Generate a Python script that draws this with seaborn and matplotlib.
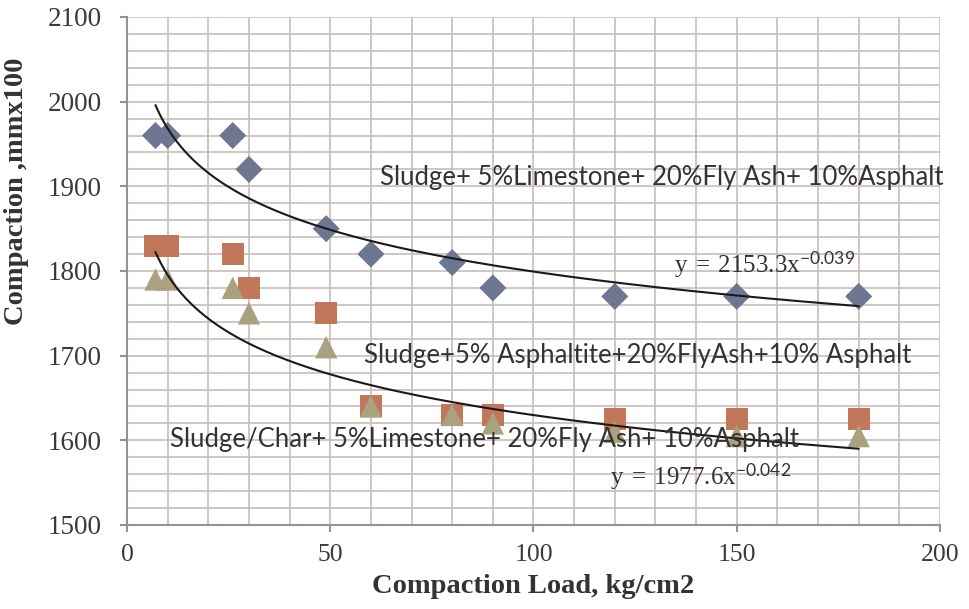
import numpy as np
import pandas as pd
import matplotlib
matplotlib.use("Agg")
import matplotlib.pyplot as plt
import seaborn as sns

# ---- data ----
load = [7, 10, 26, 30, 49, 60, 80, 90, 120, 150, 180]
limestone = [1960, 1960, 1960, 1920, 1850, 1820, 1810, 1780, 1770, 1770, 1770]
asphaltite = [1830, 1830, 1820, 1780, 1750, 1640, 1630, 1630, 1625, 1625, 1625]
char_limestone = [1790, 1790, 1780, 1750, 1710, 1640, 1630, 1620, 1610, 1605, 1605]
series_names = ["Sludge+ 5%Limestone+ 20%Fly Ash+ 10%Asphalt",
                "Sludge+5% Asphaltite+20%FlyAsh+10% Asphalt",
                "Sludge/Char+ 5%Limestone+ 20%Fly Ash+ 10%Asphalt"]
fit_upper = (2153.3, -0.039)
fit_lower = (1977.6, -0.042)
x_ticks = [0, 50, 100, 150, 200]
y_ticks = [1500, 1600, 1700, 1800, 1900, 2000, 2100]

df = pd.DataFrame({
    "load": load * 3,
    "value": limestone + asphaltite + char_limestone,
    "series": [series_names[0]] * len(load) + [series_names[1]] * len(load) + [series_names[2]] * len(load),
})

sns.set_theme(style="white")
plt.rcParams["font.family"] = ["DejaVu Sans"]
plt.rcParams["mathtext.fontset"] = "custom"
plt.rcParams["mathtext.rm"] = "Liberation Serif"
plt.rcParams["mathtext.it"] = "Liberation Serif:italic"
plt.rcParams["mathtext.sf"] = "Lato"

fig = plt.figure(figsize=(9.7, 6.09), dpi=100)
ax = fig.add_axes([127 / 970, 1 - 525 / 609, (940 - 127) / 970, (525 - 17) / 609])
ax.set_facecolor("white")

palette = {series_names[0]: "#6e7791", series_names[1]: "#c0775a", series_names[2]: "#aaa27e"}
markers = {series_names[0]: "D", series_names[1]: "s", series_names[2]: "^"}
sizes_map = {series_names[0]: 190, series_names[1]: 250, series_names[2]: 260}

for name in series_names:
    sub = df[df["series"] == name]
    sns.scatterplot(data=sub, x="load", y="value", color=palette[name], marker=markers[name],
                    s=sizes_map[name], edgecolor="none", ax=ax, zorder=3, legend=False)

xs = np.linspace(min(load), max(load), 300)
for a, b in (fit_upper, fit_lower):
    sns.lineplot(x=xs, y=a * xs ** b, color="#1a1a1a", lw=1.5, ax=ax, zorder=4)

ax.set_xlim(0, 200)
ax.set_ylim(1500, 2100)
ax.set_xticks(x_ticks)
ax.set_yticks(y_ticks)
ax.set_xticks(np.arange(0, 201, 10), minor=True)
ax.set_yticks(np.arange(1500, 2101, 20), minor=True)
ax.grid(True, which="both", color="#c9bcba", lw=1.2)
ax.set_axisbelow(True)
for s in ["top", "right"]:
    ax.spines[s].set_visible(False)
for s in ["left", "bottom"]:
    ax.spines[s].set_color("#9a9090")
    ax.spines[s].set_linewidth(1.5)
ax.tick_params(axis="both", which="major", direction="out", length=5, width=1.5, color="#9a9090",
               labelsize=19.5, labelcolor="#3a3a3a", bottom=True, left=True)
ax.tick_params(axis="x", labelsize=18.5, pad=9)
ax.tick_params(axis="y", pad=13)
ax.tick_params(axis="both", which="minor", length=0)
for lab in ax.get_xticklabels() + ax.get_yticklabels():
    lab.set_family("Liberation Serif")

ax.set_xlabel("Compaction Load, kg/cm2", fontsize=20.5, fontweight="bold", family="Liberation Serif",
              color="#333333")
ax.set_ylabel("Compaction ,mmx100", fontsize=20.5, fontweight="bold", family="Liberation Serif",
              color="#333333")
ax.xaxis.set_label_coords(0.50, -0.097)
ax.yaxis.set_label_coords(-0.121, 0.657)

tkw = dict(fontsize=18.5, color="#333333", family="Lato", va="center", ha="left", zorder=5)
ax.text(62.3, 1911, series_names[0], **tkw)
ax.text(58.2, 1700, series_names[1], **tkw)
ax.text(10.6, 1601, series_names[2], **tkw)
ekw = dict(fontsize=18, color="#333333", va="center", ha="left", zorder=5)
ax.text(134.5, 1808, r"$\mathrm{y\;=\;2153.3x}^{\mathsf{-0.039}}$", **ekw)
ax.text(118.8, 1557, r"$\mathrm{y\;=\;1977.6x}^{\mathsf{-0.042}}$", **ekw)

fig.savefig("out.png", dpi=100, facecolor="white")
